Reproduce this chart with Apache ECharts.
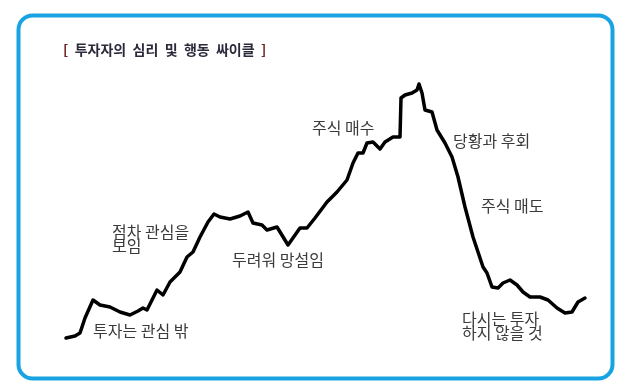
<!DOCTYPE html>
<html>
<head>
<meta charset="utf-8">
<script src="https://cdn.jsdelivr.net/npm/echarts@6/dist/echarts.min.js"></script>
<style>
html,body{margin:0;padding:0;background:#fff;}
#chart{width:620px;height:389px;}
</style>
</head>
<body>
<div id="chart"></div>
<script>
// Time steps (horizontal) and price level (vertical, higher = higher price)
const timeSteps = [66,75,80,85,93,100,110,120,130,138,143,147,152,157,163,170,180,187,193,200,208,214,220,230,240,248,253,262,267,277,288,300,307,315,327,337,347,353,358,363,367,373,380,385,393,400,401,405,412,417,419,422,425,432,437,445,452,458,465,473,478,483,487,492,498,503,510,517,523,530,540,548,557,565,572,578,585];
const priceLevel = [51,53,56,71,89,84,82,77,74,78,81,79,89,99,94,107,117,132,137,152,167,175,172,170,173,177,166,164,159,162,144,161,161,171,187,197,209,226,236,236,246,247,240,247,252,252,291,294,296,299,305,296,279,277,259,246,232,212,182,152,137,122,116,102,101,106,109,104,97,92,92,89,81,76,77,87,91];

const titleText = '투자자의  심리  및  행동  싸이클';
const notes = [
  {text:'주식 매수', x:312, y:120},
  {text:'당황과 후회', x:453, y:133},
  {text:'주식 매도', x:481, y:198},
  {text:'점차 관심을\n보임', x:112, y:224},
  {text:'두려워 망설임', x:232, y:252},
  {text:'투자는 관심 밖', x:93, y:323},
  {text:'다시는 투자\n하지 않을 것', x:462, y:311}
];

const chart = echarts.init(document.getElementById('chart'), null, {renderer:'canvas'});
const lineData = timeSteps.map((t,i)=>[t, priceLevel[i]]);

chart.setOption({
  backgroundColor:'#ffffff',
  animation:false,
  title:{
    text:'{b|[  }{t|' + titleText + '}{b|  ]}',
    left:58, top:38,
    textStyle:{
      rich:{
        b:{color:'#6e1f1f', fontSize:14, fontWeight:'bold', fontFamily:'Noto Sans CJK KR'},
        t:{color:'#2a2a3a', fontSize:14, fontWeight:'bold', fontFamily:'Noto Sans CJK KR'}
      }
    }
  },
  grid:{left:0, right:0, top:0, bottom:0},
  xAxis:{type:'value', min:0, max:620, show:false},
  yAxis:{type:'value', min:0, max:389, show:false},
  series:[{
    type:'line',
    data:lineData,
    symbol:'none',
    smooth:false,
    lineStyle:{color:'#000', width:3.5, join:'round', cap:'round'}
  }],
  graphic:[
    {type:'rect', left:16, top:13, shape:{width:594, height:363, r:14},
     style:{fill:'none', stroke:'#19a3e2', lineWidth:4}, z:100}
  ].concat(notes.map(n=>({
    type:'text', left:n.x, top:n.y,
    style:{text:n.text, fill:'#3a3a3a', font:'16px "Noto Sans CJK KR"', lineHeight:14}
  })))
});
</script>
</body>
</html>
